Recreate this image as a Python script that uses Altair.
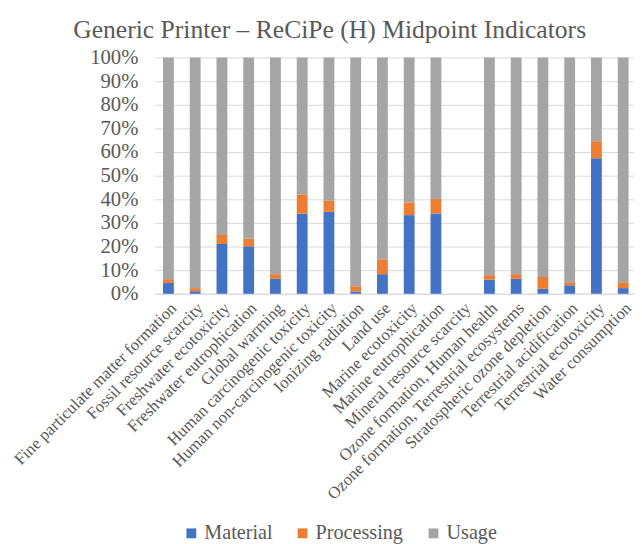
import altair as alt
import pandas as pd

categories = [
    "Fine particulate matter formation", "Fossil resource scarcity", "Freshwater ecotoxicity",
    "Freshwater eutrophication", "Global warming", "Human carcinogenic toxicity",
    "Human non-carcinogenic toxicity", "Ionizing radiation", "Land use", "Marine ecotoxicity",
    "Marine eutrophication", "Mineral resource scarcity", "Ozone formation, Human health",
    "Ozone formation, Terrestrial ecosystems", "Stratospheric ozone depletion",
    "Terrestrial acidification", "Terrestrial ecotoxicity", "Water consumption",
]
material = [4.6, 1.1, 21.1, 20.1, 6.4, 33.9, 34.7, 1.0, 8.3, 33.3, 34.0, 0.0, 6.0, 6.4, 2.1, 3.6, 57.4, 2.4]
processing = [1.6, 1.3, 3.8, 3.2, 1.9, 8.2, 4.7, 2.2, 6.3, 5.4, 6.1, 0.0, 1.9, 1.9, 5.0, 1.3, 7.2, 2.5]
total = [100, 100, 100, 100, 100, 100, 100, 100, 100, 100, 100, 0, 100, 100, 100, 100, 100, 100]
series = ["Material", "Processing", "Usage"]
colors = ["#4472C4", "#ED7D31", "#A5A5A5"]

rows = []
for c, m, p, t in zip(categories, material, processing, total):
    u = t - m - p if t > 0 else 0.0
    for i, (s, v) in enumerate(zip(series, [m, p, u])):
        rows.append({"category": c, "series": s, "value": v / 100.0, "order": i})
df = pd.DataFrame(rows)

font = "Liberation Serif"
grey = "#595959"

chart = alt.Chart(df).mark_bar(size=11).encode(
    x=alt.X("category:N", sort=categories, title=None,
            scale=alt.Scale(paddingInner=0.6, paddingOuter=0.315),
            axis=alt.Axis(labelAngle=-45, labelFontSize=17, labelColor=grey, labelFont=font,
                          ticks=False, domainColor="#D9D9D9", labelPadding=6, labelLimit=400)),
    y=alt.Y("value:Q", stack="zero", title=None,
            scale=alt.Scale(domain=[0, 1], nice=False),
            axis=alt.Axis(format=".0%", values=[i / 10 for i in range(11)], labelFontSize=21,
                          labelColor=grey, labelFont=font, ticks=False, domain=False,
                          gridColor="#D9D9D9", labelPadding=17)),
    color=alt.Color("series:N", sort=series,
                    scale=alt.Scale(domain=series, range=colors),
                    legend=alt.Legend(orient="none", legendX=27, legendY=473,
                                      direction="horizontal", title=None,
                                      symbolType="square", symbolSize=100, labelFontSize=20.5,
                                      labelFont=font, labelColor=grey, columnPadding=20,
                                      labelOffset=3, symbolStrokeWidth=0)),
    order=alt.Order("order:Q"),
).properties(
    width=490, height=240,
    padding={"left": 2, "top": 5, "bottom": 5, "right": -3},
    title=alt.TitleParams("Generic Printer – ReCiPe (H) Midpoint Indicators", fontSize=26,
                          font=font, color=grey, fontWeight="normal", frame="bounds",
                          anchor="middle", offset=4, dx=6),
).configure(font=font).configure_view(stroke=None)

chart.save("out.html", embed_options={"renderer": "svg", "actions": False})
